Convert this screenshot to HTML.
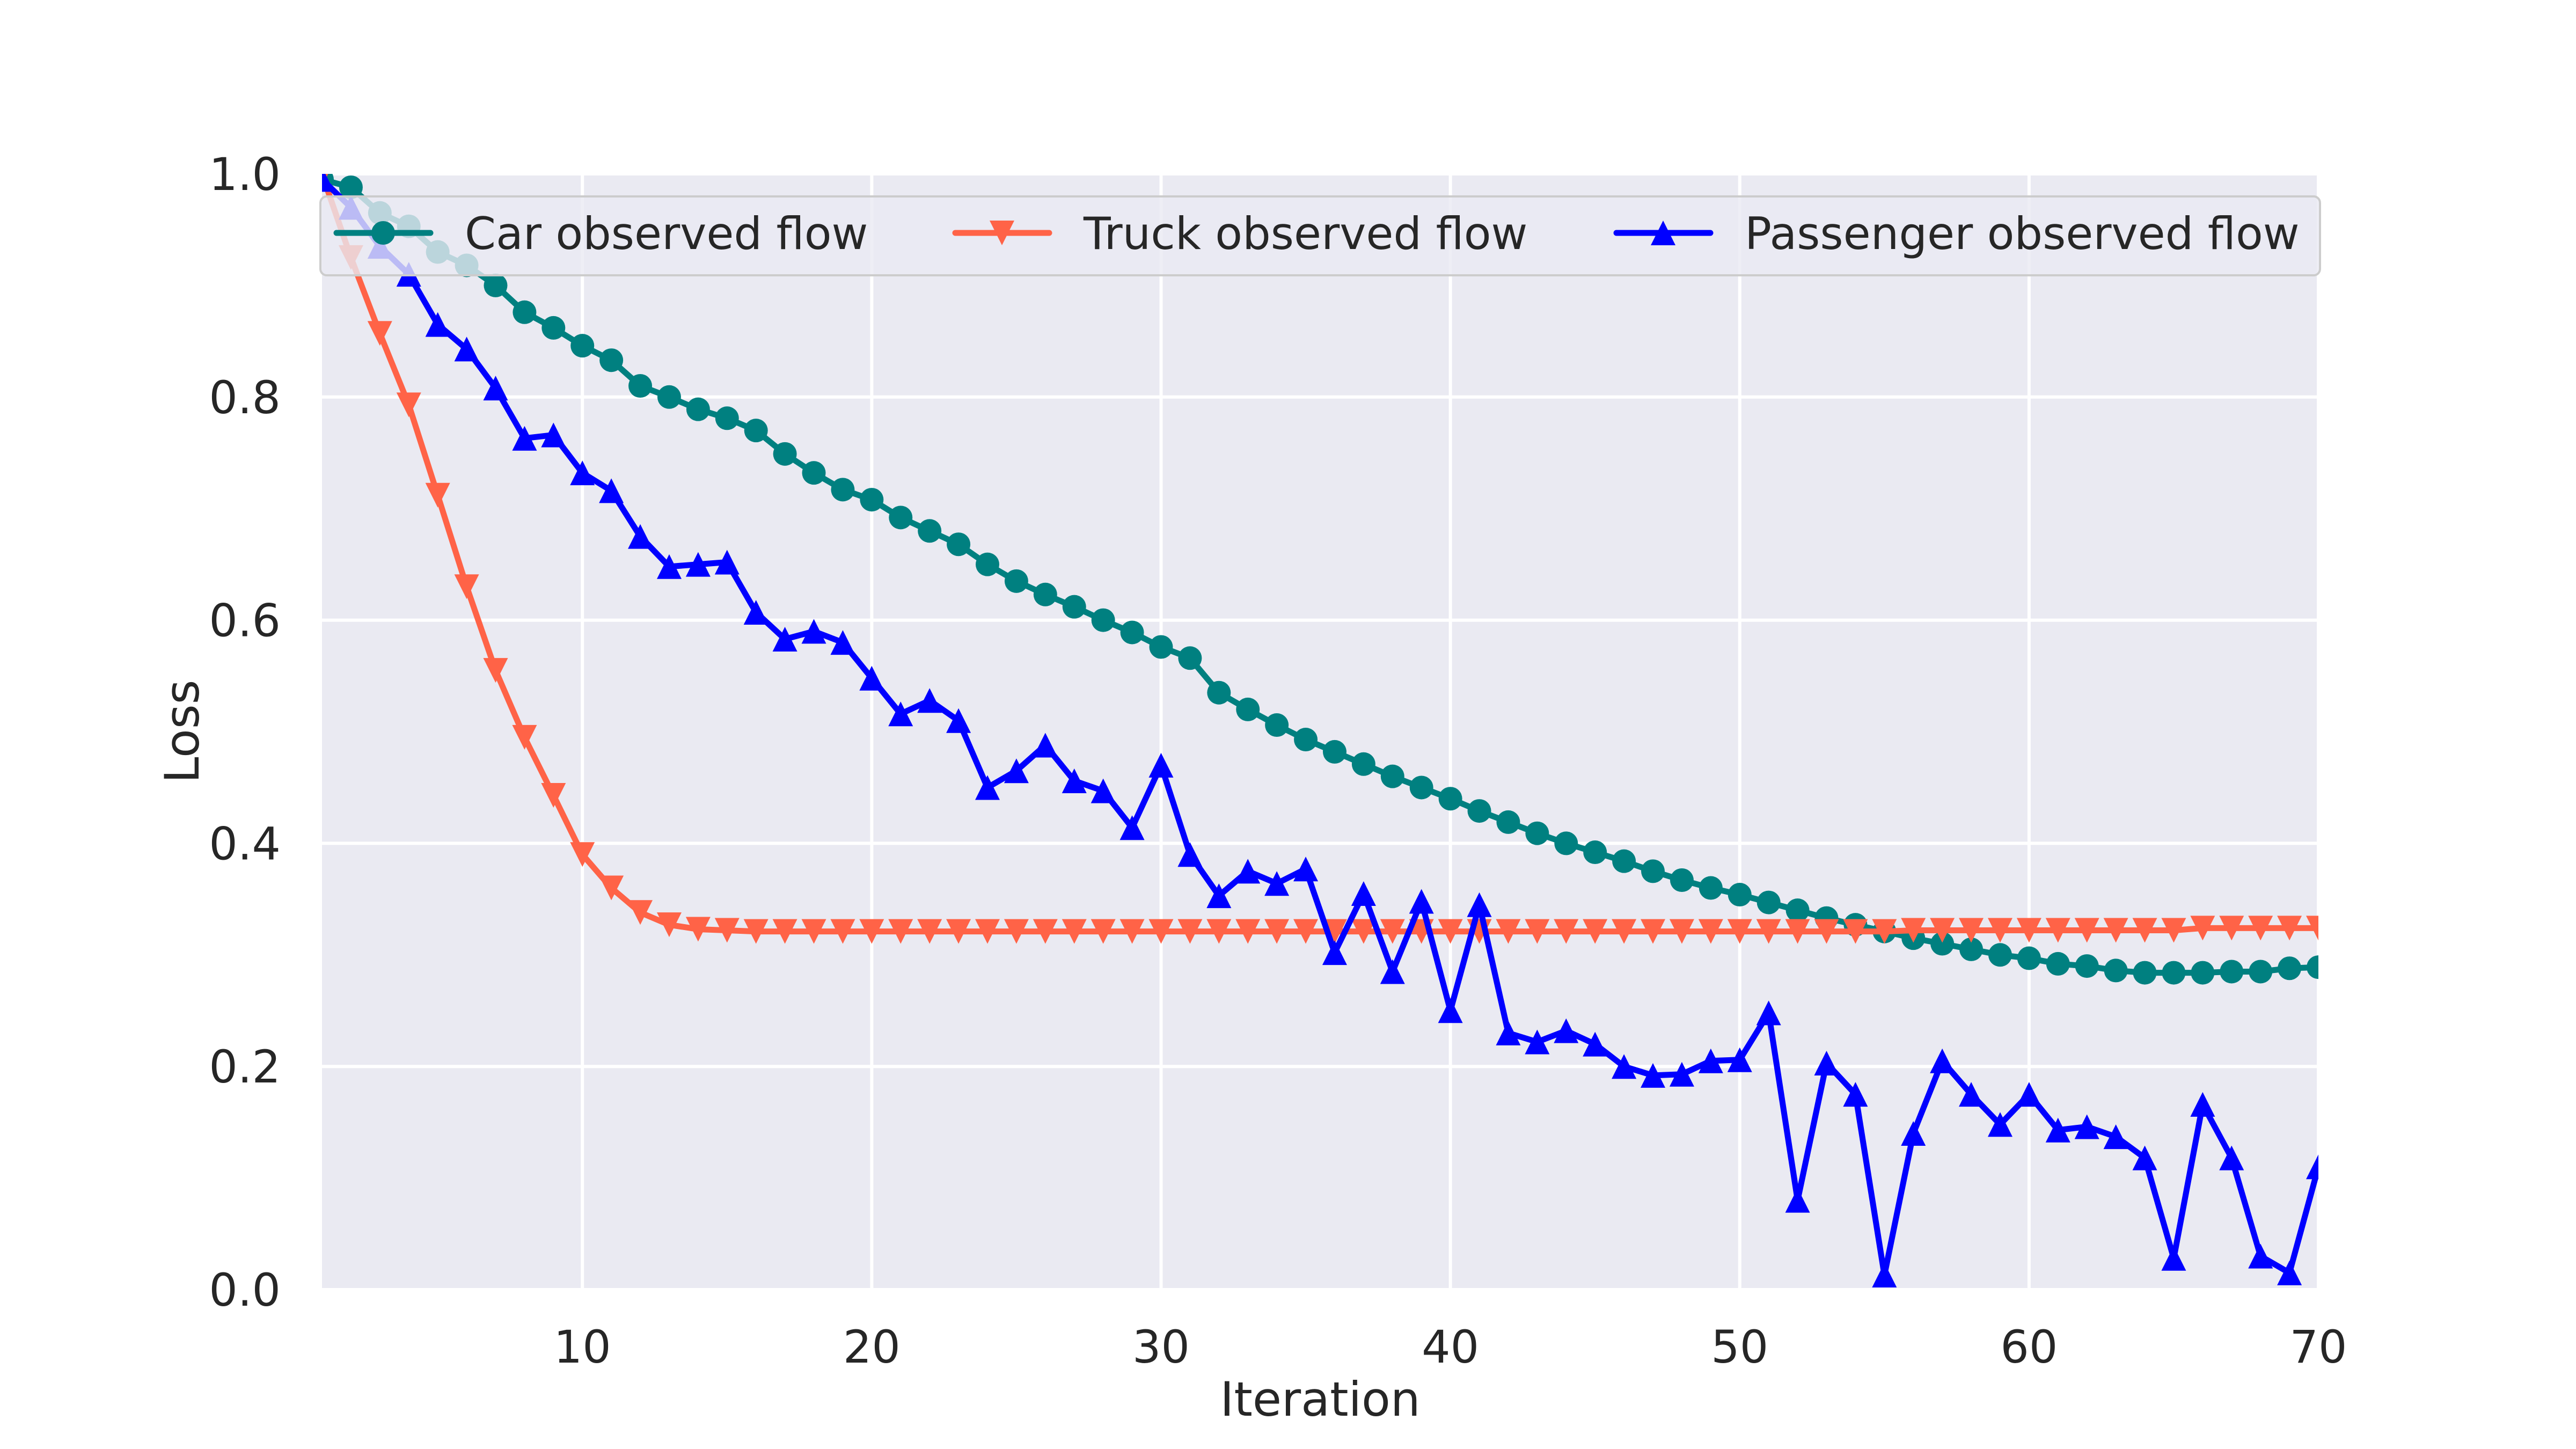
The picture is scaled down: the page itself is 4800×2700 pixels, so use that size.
<!DOCTYPE html>
<html><head><meta charset="utf-8"><style>
html,body{margin:0;padding:0;background:#fff;}
svg{display:block;font-family:"DejaVu Sans","Liberation Sans",sans-serif;}
</style></head><body>
<svg id="chart" width="4800" height="2700" viewBox="0 0 4800 2700" xmlns="http://www.w3.org/2000/svg">
<defs><clipPath id="plotclip"><rect x="600" y="324" width="3720" height="2079"/></clipPath></defs>
<rect x="600" y="324" width="3720" height="2079" fill="#EAEAF2"/>
<g id="grid"></g>
<g id="series" clip-path="url(#plotclip)"></g>
<g id="ticks"></g>
<text x="2460" y="2638" font-size="88" fill="#262626" text-anchor="middle">Iteration</text>
<text transform="translate(370,1363) rotate(-90)" font-size="88" fill="#262626" text-anchor="middle">Loss</text>
<g id="legend"></g>
</svg>
<script>
const iterations = [];
for (let i = 1; i <= 70; i++) iterations.push(i);
const carLoss = [0.995,0.988,0.965,0.953,0.93,0.918,0.9,0.876,0.862,0.846,0.833,0.81,0.8,0.789,0.781,0.77,0.749,0.732,0.717,0.708,0.692,0.68,0.668,0.65,0.635,0.623,0.612,0.6,0.589,0.576,0.566,0.535,0.52,0.506,0.493,0.482,0.471,0.46,0.45,0.44,0.429,0.419,0.409,0.4,0.392,0.384,0.375,0.367,0.36,0.354,0.347,0.34,0.333,0.327,0.321,0.315,0.31,0.305,0.3,0.297,0.292,0.29,0.286,0.284,0.284,0.284,0.285,0.285,0.288,0.289];
const truckLoss = [1.0,0.925,0.857,0.793,0.712,0.63,0.555,0.495,0.443,0.39,0.36,0.338,0.327,0.323,0.322,0.321,0.321,0.321,0.321,0.321,0.321,0.321,0.321,0.321,0.321,0.321,0.321,0.321,0.321,0.321,0.321,0.321,0.321,0.321,0.321,0.321,0.321,0.321,0.321,0.321,0.321,0.321,0.321,0.321,0.321,0.321,0.321,0.321,0.321,0.321,0.321,0.321,0.321,0.321,0.321,0.322,0.322,0.322,0.322,0.322,0.322,0.322,0.322,0.322,0.322,0.324,0.324,0.324,0.324,0.324];
const passengerLoss = [0.995,0.97,0.935,0.91,0.865,0.843,0.808,0.763,0.766,0.732,0.716,0.675,0.648,0.65,0.652,0.607,0.583,0.59,0.58,0.548,0.516,0.528,0.51,0.45,0.465,0.488,0.456,0.447,0.414,0.47,0.39,0.353,0.375,0.364,0.377,0.302,0.355,0.285,0.348,0.25,0.345,0.23,0.222,0.232,0.22,0.2,0.192,0.193,0.205,0.206,0.248,0.08,0.203,0.175,0.013,0.14,0.205,0.175,0.148,0.175,0.143,0.146,0.137,0.118,0.028,0.166,0.118,0.03,0.015,0.11];
const xTicks = [10,20,30,40,50,60,70];
const yTicks = [0.0,0.2,0.4,0.6,0.8,1.0];
const seriesNames = ["Car observed flow","Truck observed flow","Passenger observed flow"];

const NS = "http://www.w3.org/2000/svg";
const L = 600, R = 4320, T = 324, B = 2403;
const xMin = 1, xMax = 70, yMin = 0, yMax = 1;
function xs(v){ return L + (v - xMin) / (xMax - xMin) * (R - L); }
function ys(v){ return B - (v - yMin) / (yMax - yMin) * (B - T); }
function mk(tag, attrs, parent){ const e = document.createElementNS(NS, tag); for (const k in attrs) e.setAttribute(k, attrs[k]); parent.appendChild(e); return e; }

const grid = document.getElementById('grid');
const ticks = document.getElementById('ticks');
xTicks.forEach(t => {
  const g = mk('line', {x1: xs(t), x2: xs(t), y1: T, y2: B, stroke: '#fff', 'stroke-width': 6}, grid);
  
  
  const tx = mk('text', {x: xs(t), y: 2539, 'font-size': 84, fill: '#262626', 'text-anchor': 'middle'}, ticks);
  tx.textContent = String(t);
  
  
});
yTicks.forEach(t => {
  const g = mk('line', {x1: L, x2: R, y1: ys(t), y2: ys(t), stroke: '#fff', 'stroke-width': 6}, grid);
  
  
  const tx = mk('text', {x: 523, y: ys(t) + 30, 'font-size': 84, fill: '#262626', 'text-anchor': 'end'}, ticks);
  tx.textContent = t.toFixed(1);
  
  
});

const series = document.getElementById('series');
function markerPath(type, cx, cy, s){
  const h = s / 2;
  if (type === 'down') return `M${cx-h},${cy-h} L${cx+h},${cy-h} L${cx},${cy+h} Z`;
  return `M${cx-h},${cy+h} L${cx+h},${cy+h} L${cx},${cy-h} Z`;
}
function drawSeries(vals, color, marker, name){
  const g = mk('g', {}, series);
  
  
  const pts = vals.map((v, i) => xs(iterations[i]) + ',' + ys(v)).join(' ');
  const pl = mk('polyline', {points: pts, fill: 'none', stroke: color, 'stroke-width': 11, 'stroke-linejoin': 'round', 'stroke-linecap': 'round'}, g);
  
  
  vals.forEach((v, i) => {
    const cx = xs(iterations[i]), cy = ys(v);
    let m;
    if (marker === 'circle') m = mk('circle', {cx: cx, cy: cy, r: 22, fill: color}, g);
    else m = mk('path', {d: markerPath(marker, cx, cy, 46), fill: color}, g);
    
    
  });
}
drawSeries(carLoss, '#008080', 'circle', 'car-series');
drawSeries(truckLoss, '#FF6347', 'down', 'truck-series');
drawSeries(passengerLoss, '#0000FF', 'up', 'passenger-series');

const leg = document.getElementById('legend');
const box = mk('rect', {x: 597, y: 366, width: 3726, height: 147, rx: 12, fill: '#EAEAF2', 'fill-opacity': 0.8, stroke: '#CCCCCC', 'stroke-width': 4}, leg);


const legX = [627, 1780, 3012];
const legColors = ['#008080', '#FF6347', '#0000FF'];
const legMarkers = ['circle', 'down', 'up'];
seriesNames.forEach((n, i) => {
  const e = mk('g', {}, leg);
  
  
  const x0 = legX[i], cy = 434;
  mk('line', {x1: x0, x2: x0 + 175, y1: cy, y2: cy, stroke: legColors[i], 'stroke-width': 11, 'stroke-linecap': 'round'}, e);
  if (legMarkers[i] === 'circle') mk('circle', {cx: x0 + 87, cy: cy, r: 22, fill: legColors[i]}, e);
  else mk('path', {d: markerPath(legMarkers[i], x0 + 87, cy, 46), fill: legColors[i]}, e);
  const t = mk('text', {x: x0 + 239, y: cy + 30, 'font-size': 83, fill: '#262626'}, e);
  t.textContent = n;
  
  
});
</script>
</body></html>
